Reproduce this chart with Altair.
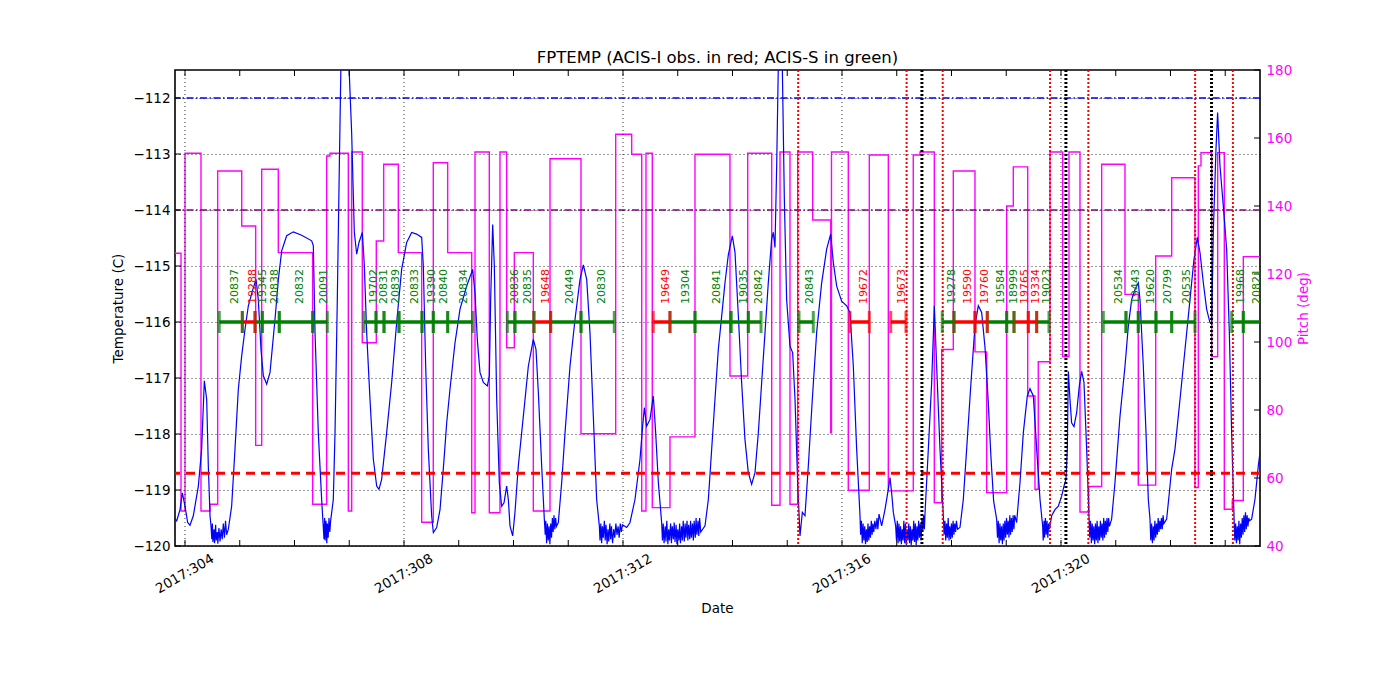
import altair as alt
import pandas as pd

# ---------------- data ----------------
x_tick_days = list(range(304, 324))
x_label_days = [304, 308, 312, 316, 320]
temp_ticks = [-120, -119, -118, -117, -116, -115, -114, -113, -112]
pitch_ticks = [40, 60, 80, 100, 120, 140, 160, 180]

limit_blue = -112.0
limit_purple = -114.0
limit_red = -118.7
obs_level = -116.0
obs_label_level = -115.68

obs_ids = ["20837", "19288", "19345", "20838", "20832", "20091", "19702", "20831",
           "20839", "20833", "19390", "20840", "20834", "20836", "20835", "19648",
           "20449", "20830", "19649", "19304", "20841", "19035", "20842", "20843",
           "19672", "19673", "19278", "19590", "19760", "19584", "18999", "19765",
           "19334", "19023", "20534", "19443", "19620", "20799", "20535", "19968",
           "20821"]
obs_instr = ["S", "I", "S", "S", "S", "S", "S", "S",
             "S", "S", "S", "S", "S", "S", "S", "I",
             "S", "S", "I", "S", "S", "S", "S", "S",
             "I", "I", "S", "I", "I", "S", "S", "I",
             "I", "S", "S", "S", "S", "S", "S", "S",
             "S"]
obs_start = [304.626, 305.047, 305.279, 305.412, 305.722, 306.332, 307.269, 307.489,
             307.635, 307.909, 308.329, 308.535, 308.798, 309.887, 310.027, 310.374,
             310.679, 311.233, 312.553, 312.858, 313.315, 313.973, 314.289, 315.215,
             316.146, 316.890, 317.832, 318.046, 318.429, 318.654, 319.008, 319.142,
             319.403, 319.556, 320.773, 321.187, 321.412, 321.735, 322.022, 323.118,
             323.330]
obs_end = [305.047, 305.279, 305.412, 305.722, 306.332, 306.599, 307.489, 307.635,
           307.909, 308.329, 308.535, 308.798, 309.255, 310.027, 310.374, 310.679,
           311.233, 311.841, 312.858, 313.315, 313.973, 314.289, 314.521, 315.476,
           316.499, 317.169, 318.046, 318.429, 318.654, 319.008, 319.142, 319.403,
           319.556, 319.781, 321.187, 321.412, 321.735, 322.022, 322.447, 323.330,
           323.690]

red_vlines = [315.20, 317.18, 317.84, 319.80, 320.50, 322.45, 323.14]
black_vlines = [317.46, 320.09, 322.75]

# pitch: (day at which the level starts, pitch level in deg)
pitch_steps = [
    (303.817, 126.1), (303.927, 50.3), (304.000, 155.5), (304.292, 50.3), (304.457, 52.3),
    (304.597, 150.3), (305.036, 134.1), (305.291, 69.6), (305.401, 150.8), (305.704, 126.3),
    (306.332, 52.3), (306.588, 154.7), (306.648, 155.5), (306.983, 50.3), (307.045, 155.9),
    (307.238, 99.8), (307.494, 129.7), (307.629, 152.3), (307.896, 126.3), (308.323, 47.0),
    (308.535, 152.7), (308.798, 126.3), (309.237, 49.8), (309.297, 155.9), (309.558, 49.8),
    (309.753, 155.9), (309.876, 98.3), (310.015, 126.3), (310.362, 50.3), (310.667, 153.9),
    (311.233, 73.0), (311.867, 161.1), (312.159, 155.2), (312.342, 50.3), (312.420, 155.5),
    (312.535, 51.3), (312.858, 72.1), (313.315, 155.2), (313.954, 90.0), (314.278, 155.5),
    (314.716, 52.0), (314.868, 155.9), (315.050, 52.3), (315.191, 155.9), (315.465, 135.9),
    (315.794, 73.3), (315.808, 155.9), (316.115, 56.4), (316.499, 155.0), (316.846, 56.2),
    (317.302, 155.0), (317.425, 155.9), (317.686, 52.7), (317.821, 97.8), (318.033, 150.3),
    (318.429, 97.1), (318.643, 55.7), (319.008, 140.0), (319.129, 151.5), (319.392, 84.1),
    (319.525, 56.7), (319.585, 94.2), (319.799, 155.9), (320.031, 95.7), (320.146, 155.9),
    (320.347, 50.0), (320.506, 57.5), (320.743, 152.3), (321.169, 114.0), (321.412, 57.9),
    (321.730, 125.3), (322.022, 148.3), (322.447, 57.2), (322.508, 151.8), (322.557, 155.7),
    (322.753, 95.7), (322.862, 155.7), (322.983, 50.8), (323.129, 53.4), (323.330, 125.1),
    (323.635, 125.1),
]

# FPTEMP: (day, temperature C)
temp_series = [
    (303.817, -119.52), (303.848, -119.55), (303.909, -119.35), (303.951, -119.05), (304.000, -119.29),
    (304.049, -119.58), (304.091, -119.63), (304.152, -119.46), (304.244, -118.93), (304.304, -118.27),
    (304.353, -117.05), (304.396, -117.38), (304.426, -118.57), (304.457, -119.46), (304.475, -119.64),
    (304.49, -119.88), (304.50, -119.60), (304.51, -119.93), (304.53, -119.70), (304.54, -119.95),
    (304.56, -119.62), (304.57, -119.90), (304.59, -119.75), (304.60, -119.96), (304.62, -119.68),
    (304.64, -119.92), (304.66, -119.70), (304.68, -119.88), (304.70, -119.60), (304.72, -119.85),
    (304.74, -119.55), (304.76, -119.80), (304.792, -119.70), (304.852, -119.29), (304.913, -118.27),
    (304.974, -117.20), (305.035, -116.61), (305.096, -116.13), (305.157, -115.71), (305.248, -115.39),
    (305.297, -115.24), (305.339, -115.60), (305.388, -116.49), (305.431, -116.96), (305.492, -117.11),
    (305.553, -116.90), (305.644, -115.95), (305.705, -115.24), (305.766, -114.73), (305.857, -114.46),
    (305.979, -114.39), (306.131, -114.45), (306.314, -114.55), (306.344, -114.64), (306.375, -116.19),
    (306.435, -117.98), (306.496, -119.17), (306.539, -119.88), (306.55, -119.50), (306.56, -119.90),
    (306.575, -119.55), (306.59, -119.95), (306.60, -119.60), (306.615, -119.85), (306.63, -119.50),
    (306.645, -119.75), (306.66, -119.55), (306.709, -119.17), (306.740, -117.98), (306.782, -115.60),
    (306.819, -113.21), (306.85, -111.3), (306.92, -110.6), (306.99, -111.3), (307.044, -112.62),
    (307.093, -114.40), (307.136, -114.79), (307.178, -114.58), (307.239, -114.40), (307.276, -115.00),
    (307.318, -116.19), (307.379, -117.38), (307.440, -118.45), (307.501, -118.93), (307.543, -118.99),
    (307.592, -118.81), (307.683, -117.98), (307.775, -117.08), (307.866, -116.01), (307.957, -115.06),
    (308.049, -114.58), (308.140, -114.40), (308.231, -114.43), (308.323, -114.49), (308.353, -115.00),
    (308.396, -116.79), (308.444, -118.27), (308.505, -119.46), (308.536, -119.76), (308.597, -119.67),
    (308.658, -119.35), (308.72, -118.60), (308.78, -117.80), (308.840, -117.20), (308.932, -116.37),
    (309.023, -115.77), (309.145, -115.36), (309.254, -115.06), (309.297, -115.48), (309.339, -116.31),
    (309.388, -116.90), (309.449, -117.08), (309.522, -117.14), (309.559, -116.96), (309.583, -115.60),
    (309.620, -114.26), (309.650, -115.00), (309.693, -117.38), (309.741, -118.87), (309.784, -119.29),
    (309.827, -119.23), (309.875, -118.93), (309.906, -119.17), (309.936, -119.64), (309.985, -119.82),
    (310.027, -119.40), (310.088, -118.57), (310.180, -117.68), (310.271, -116.79), (310.362, -116.31),
    (310.411, -116.49), (310.454, -117.26), (310.515, -118.57), (310.563, -119.52),
    (310.58, -119.80), (310.59, -119.55), (310.605, -119.95), (310.62, -119.60), (310.635, -119.90),
    (310.65, -119.65), (310.665, -119.97), (310.68, -119.60), (310.695, -119.85), (310.71, -119.50),
    (310.725, -119.75), (310.74, -119.45), (310.755, -119.70), (310.77, -119.50), (310.785, -119.65),
    (310.819, -119.58), (310.880, -118.87), (310.941, -117.98), (311.032, -116.79), (311.124, -115.95),
    (311.215, -115.24), (311.276, -114.98), (311.337, -115.24), (311.397, -116.19), (311.458, -117.68),
    (311.519, -119.17), (311.568, -119.64),
    (311.58, -119.90), (311.595, -119.60), (311.61, -119.95), (311.625, -119.65), (311.64, -119.85),
    (311.66, -119.55), (311.675, -119.90), (311.69, -119.62), (311.71, -119.97), (311.725, -119.70),
    (311.74, -119.92), (311.76, -119.60), (311.775, -119.88), (311.79, -119.65), (311.81, -119.95),
    (311.83, -119.70), (311.85, -119.85), (311.87, -119.60), (311.89, -119.80), (311.91, -119.65),
    (311.93, -119.85), (311.95, -119.60), (311.97, -119.75), (311.99, -119.62),
    (312.067, -119.67), (312.128, -119.58), (312.219, -119.17), (312.311, -118.45), (312.359, -117.86),
    (312.390, -117.53), (312.432, -117.86), (312.493, -117.74), (312.554, -117.32), (312.597, -117.98),
    (312.646, -118.87), (312.706, -119.58),
    (312.72, -119.90), (312.735, -119.60), (312.75, -119.95), (312.77, -119.65), (312.785, -119.92),
    (312.80, -119.55), (312.82, -119.97), (312.835, -119.70), (312.85, -119.90), (312.87, -119.60),
    (312.885, -119.95), (312.90, -119.65), (312.92, -119.88), (312.935, -119.58), (312.95, -119.93),
    (312.97, -119.62), (312.985, -119.97), (313.00, -119.70), (313.02, -119.90), (313.035, -119.60),
    (313.05, -119.95), (313.07, -119.65), (313.085, -119.90), (313.10, -119.55), (313.12, -119.92),
    (313.135, -119.60), (313.15, -119.85), (313.17, -119.55), (313.185, -119.90), (313.20, -119.62),
    (313.22, -119.88), (313.235, -119.55), (313.25, -119.85), (313.27, -119.60), (313.285, -119.90),
    (313.30, -119.55), (313.32, -119.85), (313.335, -119.50), (313.35, -119.80), (313.37, -119.55),
    (313.385, -119.82), (313.40, -119.50), (313.42, -119.75),
    (313.498, -119.64), (313.559, -119.17), (313.620, -118.27), (313.680, -117.38), (313.741, -116.49),
    (313.802, -115.90), (313.863, -115.30), (313.924, -114.80), (313.997, -114.46), (314.046, -114.76),
    (314.107, -115.89), (314.167, -117.08), (314.228, -118.10), (314.289, -118.69), (314.350, -118.90),
    (314.411, -118.69), (314.472, -117.98), (314.533, -117.08), (314.594, -116.19), (314.654, -115.30),
    (314.715, -114.52), (314.746, -114.40), (314.776, -114.67), (314.807, -113.21), (314.837, -111.43),
    (314.87, -110.6), (314.910, -111.43), (314.947, -113.81), (314.989, -115.60), (315.050, -116.43),
    (315.099, -116.55), (315.142, -117.38), (315.190, -118.87), (315.233, -119.82), (315.276, -119.40),
    (315.324, -119.46), (315.385, -118.57), (315.458, -117.38), (315.537, -116.19), (315.629, -115.30),
    (315.720, -114.70), (315.793, -114.43), (315.842, -114.94), (315.903, -115.36), (315.994, -115.63),
    (316.085, -115.71), (316.146, -115.83), (316.207, -116.79), (316.268, -118.27), (316.329, -119.46),
    (316.34, -119.80), (316.355, -119.55), (316.37, -119.95), (316.385, -119.60), (316.40, -119.90),
    (316.415, -119.65), (316.43, -119.97), (316.445, -119.70), (316.46, -119.93), (316.475, -119.60),
    (316.49, -119.90), (316.505, -119.65), (316.52, -119.85), (316.535, -119.55), (316.55, -119.80),
    (316.565, -119.60), (316.58, -119.75), (316.60, -119.55), (316.62, -119.70), (316.64, -119.50),
    (316.655, -119.70),
    (316.676, -119.43), (316.725, -119.64), (316.785, -119.35), (316.846, -118.99), (316.877, -118.78),
    (316.907, -119.05), (316.938, -119.40), (316.980, -119.64),
    (316.995, -119.90), (317.01, -119.55), (317.025, -119.95), (317.04, -119.60), (317.055, -119.92),
    (317.07, -119.65), (317.085, -119.97), (317.10, -119.70), (317.115, -119.90), (317.13, -119.55),
    (317.145, -119.95), (317.16, -119.60), (317.175, -119.98), (317.19, -119.70), (317.205, -119.90),
    (317.22, -119.60), (317.235, -119.95), (317.25, -119.65), (317.265, -119.98), (317.28, -119.70),
    (317.295, -119.90), (317.31, -119.55), (317.325, -119.93), (317.34, -119.60), (317.355, -119.98),
    (317.37, -119.65), (317.385, -119.90), (317.40, -119.55), (317.415, -119.85), (317.43, -119.60),
    (317.445, -119.90), (317.46, -119.50), (317.475, -119.75), (317.49, -119.45), (317.505, -119.70),
    (317.516, -119.43), (317.577, -118.27), (317.638, -117.08), (317.687, -115.71), (317.729, -116.79),
    (317.790, -118.27), (317.851, -119.46),
    (317.865, -119.80), (317.88, -119.55), (317.895, -119.90), (317.91, -119.60), (317.925, -119.85),
    (317.94, -119.50), (317.955, -119.90), (317.97, -119.65), (317.985, -119.88), (318.00, -119.60),
    (318.015, -119.85), (318.03, -119.55), (318.045, -119.80), (318.06, -119.60), (318.075, -119.75),
    (318.09, -119.55), (318.11, -119.70),
    (318.155, -119.67), (318.216, -119.17), (318.277, -118.27), (318.356, -117.08), (318.429, -116.07),
    (318.490, -115.71), (318.551, -115.83), (318.612, -116.45), (318.67, -117.40), (318.72, -118.40),
    (318.77, -119.20), (318.825, -119.52),
    (318.84, -119.85), (318.855, -119.55), (318.87, -119.95), (318.885, -119.60), (318.90, -119.90),
    (318.915, -119.65), (318.93, -119.97), (318.945, -119.60), (318.96, -119.90), (318.975, -119.55),
    (318.99, -119.85), (319.005, -119.50), (319.02, -119.80), (319.035, -119.55), (319.05, -119.85),
    (319.065, -119.45), (319.08, -119.80), (319.095, -119.50), (319.11, -119.75), (319.125, -119.45),
    (319.14, -119.70), (319.155, -119.45),
    (319.190, -119.58), (319.251, -118.87), (319.312, -117.98), (319.385, -117.32), (319.434, -117.19),
    (319.495, -117.32), (319.556, -118.27), (319.617, -119.17), (319.665, -119.64),
    (319.675, -119.90), (319.69, -119.55), (319.70, -119.85), (319.715, -119.50), (319.73, -119.80),
    (319.745, -119.55), (319.76, -119.85), (319.775, -119.60), (319.79, -119.70),
    (319.830, -119.46), (319.890, -119.35), (319.951, -119.29), (320.012, -119.11), (320.055, -118.93),
    (320.091, -118.81), (320.116, -118.27), (320.134, -116.88), (320.164, -117.38), (320.194, -117.80),
    (320.237, -117.87), (320.286, -117.62), (320.335, -117.14), (320.378, -116.88), (320.420, -117.08),
    (320.469, -118.27), (320.511, -119.46),
    (320.525, -119.85), (320.54, -119.55), (320.555, -119.95), (320.57, -119.60), (320.585, -119.90),
    (320.60, -119.65), (320.615, -119.97), (320.63, -119.60), (320.645, -119.90), (320.66, -119.55),
    (320.675, -119.95), (320.69, -119.65), (320.705, -119.90), (320.72, -119.55), (320.735, -119.85),
    (320.75, -119.60), (320.765, -119.90), (320.78, -119.50), (320.795, -119.85), (320.81, -119.55),
    (320.825, -119.80), (320.84, -119.50), (320.855, -119.75), (320.87, -119.50), (320.885, -119.65),
    (320.925, -119.52), (320.986, -118.87), (321.078, -117.68), (321.169, -116.79), (321.230, -116.07),
    (321.291, -115.60), (321.352, -115.42), (321.412, -115.30), (321.443, -115.60), (321.504, -116.79),
    (321.553, -117.98), (321.595, -119.17), (321.626, -119.52),
    (321.64, -119.90), (321.655, -119.60), (321.67, -119.95), (321.685, -119.65), (321.70, -119.90),
    (321.715, -119.55), (321.73, -119.85), (321.745, -119.60), (321.76, -119.80), (321.775, -119.50),
    (321.79, -119.75), (321.805, -119.55), (321.82, -119.70), (321.835, -119.50), (321.85, -119.70),
    (321.865, -119.45), (321.88, -119.60),
    (321.930, -119.52), (321.979, -119.05), (322.021, -118.63), (322.082, -118.27), (322.174, -117.38),
    (322.265, -116.49), (322.356, -115.60), (322.429, -114.88), (322.490, -114.49), (322.539, -114.76),
    (322.600, -115.30), (322.660, -115.77), (322.721, -116.01), (322.752, -116.04), (322.782, -114.40),
    (322.831, -112.92), (322.861, -112.26), (322.904, -113.21), (322.965, -113.93), (323.026, -114.70),
    (323.075, -116.19), (323.117, -117.98), (323.160, -119.46),
    (323.175, -119.90), (323.19, -119.60), (323.205, -119.95), (323.22, -119.65), (323.235, -119.90),
    (323.25, -119.55), (323.265, -119.97), (323.28, -119.60), (323.295, -119.85), (323.31, -119.50),
    (323.325, -119.80), (323.34, -119.45), (323.355, -119.75), (323.37, -119.40), (323.385, -119.70),
    (323.40, -119.45), (323.415, -119.65), (323.43, -119.50), (323.445, -119.55),
    (323.482, -119.52), (323.543, -119.17), (323.604, -118.57), (323.635, -118.33),
]

# ---------------- layout / scales ----------------
W, H = 1085, 476
FONT = "DejaVu Sans"
GREEN, RED, MAGENTA = "#008000", "#FF0000", "#FF00FF"

xs = alt.Scale(domain=[303.8174, 323.635], nice=False, zero=False)
ts = alt.Scale(domain=[-120, -111.5], nice=False, zero=False)
ps = alt.Scale(domain=[40, 180], nice=False, zero=False)

temp_df = pd.DataFrame(temp_series, columns=["day", "temp"])
temp_df["i"] = range(len(temp_df))
pitch_df = pd.DataFrame(pitch_steps, columns=["day", "pitch"])

obs_df = pd.DataFrame({"id": obs_ids, "start": obs_start, "end": obs_end, "instr": obs_instr})
obs_df["col"] = obs_df["instr"].map({"I": RED, "S": GREEN})
obs_df["mid"] = (obs_df["start"] + obs_df["end"]) / 2
obs_df["lev"] = obs_level
obs_df["labely"] = obs_label_level

bounds_df = pd.concat([
    pd.DataFrame({"b": obs_df["start"], "col": obs_df["col"], "lev": obs_level}),
    pd.DataFrame({"b": obs_df["end"], "col": obs_df["col"], "lev": obs_level}),
])

xlab_df = pd.DataFrame({"day": x_label_days, "lab": [f"2017:{d}" for d in x_label_days]})

t_axis = alt.Axis(orient="left", values=temp_ticks, grid=True, gridColor="black",
                  gridDash=[1, 3], gridWidth=0.8, gridOpacity=1, ticks=False, domain=False,
                  labelPadding=5, labelColor="black", title="Temperature (C)",
                  titlePadding=7, titleColor="black")
p_axis = alt.Axis(orient="right", values=pitch_ticks, grid=False, ticks=False,
                  domain=False, labelPadding=6, labelColor=MAGENTA, title="Pitch (deg)",
                  titleColor=MAGENTA, titleAngle=270, titleBaseline="top", titlePadding=5)

XN = lambda f: alt.X(f, type="quantitative", scale=xs, axis=None)

# ---------------- pitch (right axis) ----------------
pitch_line = alt.Chart(pitch_df).mark_line(
    color=MAGENTA, strokeWidth=1.4, interpolate="step-after", clip=True
).encode(x=XN("day"), y=alt.Y("pitch:Q", scale=ps, axis=p_axis))

pitch_tick_marks = alt.Chart(pd.DataFrame({"p": pitch_ticks})).mark_rule(
    color="black", strokeWidth=1
).encode(y=alt.Y("p:Q", scale=ps, axis=None), x=alt.value(W), x2=alt.value(W - 6))

# ---------------- temperature (left axis) ----------------
temp_line = alt.Chart(temp_df).mark_line(color="#0000FF", strokeWidth=1.2, clip=True).encode(
    x=XN("day"),
    y=alt.Y("temp:Q", scale=ts, axis=t_axis),
    order="i:Q",
)


def hline(val, color, dash, width):
    return alt.Chart(pd.DataFrame({"v": [val]})).mark_rule(
        color=color, strokeDash=dash, strokeWidth=width
    ).encode(y=alt.Y("v:Q", scale=ts, axis=None))


def vlines(days, color, width, dash):
    return alt.Chart(pd.DataFrame({"day": days})).mark_rule(
        color=color, strokeDash=dash, strokeWidth=width
    ).encode(x=XN("day"))


h_blue = hline(limit_blue, "#0000FF", [7, 2.5, 1.5, 2.5], 1.4)
h_purple = hline(limit_purple, "#800080", [7, 2.5, 1.5, 2.5], 1.4)
h_red = hline(limit_red, RED, [9, 6], 3)
v_red = vlines(red_vlines, RED, 2, [2, 2])
v_black = vlines(black_vlines, "black", 3, [2, 2])
x_grid = vlines(x_label_days, "black", 0.8, [1, 3])

segs = alt.Chart(obs_df).mark_rule(strokeWidth=3.5, clip=True).encode(
    x=XN("start"), x2="end:Q",
    y=alt.Y("lev:Q", scale=ts, axis=None),
    color=alt.Color("col:N", scale=None),
)
seg_ticks = alt.Chart(bounds_df).mark_tick(orient="vertical", size=22, thickness=3, clip=True).encode(
    x=XN("b"),
    y=alt.Y("lev:Q", scale=ts, axis=None),
    color=alt.Color("col:N", scale=None),
)
seg_labels = alt.Chart(obs_df).mark_text(
    angle=270, align="left", baseline="middle", dy=4, fontSize=11, font=FONT
).encode(
    x=XN("mid"),
    y=alt.Y("labely:Q", scale=ts, axis=None),
    text="id:N",
    color=alt.Color("col:N", scale=None),
)

xt_df = pd.DataFrame({"day": x_tick_days})
x_ticks_bottom = alt.Chart(xt_df).mark_rule(color="black", strokeWidth=1).encode(
    x=XN("day"), y=alt.value(H), y2=alt.value(H - 6))
x_ticks_top = alt.Chart(xt_df).mark_rule(color="black", strokeWidth=1).encode(
    x=XN("day"), y=alt.value(0), y2=alt.value(6))
t_tick_marks = alt.Chart(pd.DataFrame({"t": temp_ticks})).mark_rule(color="black", strokeWidth=1).encode(
    y=alt.Y("t:Q", scale=ts, axis=None), x=alt.value(0), x2=alt.value(6))

# x axis tick labels and title drawn as text
x_labels = alt.Chart(xlab_df).mark_text(
    angle=330, align="center", baseline="middle", fontSize=13.5, font=FONT, color="black"
).encode(x=XN("day"), y=alt.value(H + 28), text="lab:N")
x_title = alt.Chart(pd.DataFrame({"t": ["Date"]})).mark_text(
    align="center", baseline="middle", fontSize=13.5, font=FONT, color="black"
).encode(x=alt.value(W / 2), y=alt.value(H + 63), text="t:N")

chart = alt.layer(
    pitch_line, pitch_tick_marks,
    temp_line, h_blue, h_purple, h_red, v_red, v_black, x_grid,
    segs, seg_ticks, seg_labels, x_ticks_bottom, x_ticks_top, t_tick_marks,
    x_labels, x_title,
).resolve_scale(y="independent").properties(
    width=W, height=H,
    title=alt.TitleParams("FPTEMP (ACIS-I obs. in red; ACIS-S in green)", fontSize=16.5,
                          fontWeight="normal", font=FONT, color="black", offset=-3),
    autosize=alt.AutoSizeParams(type="none"),
    padding={"left": 167, "top": 62, "right": 132, "bottom": 146},
).configure(font=FONT, background="white").configure_view(
    stroke="black", strokeWidth=1.6
).configure_axis(
    labelFont=FONT, titleFont=FONT, labelFontSize=13.5, titleFontSize=13.5,
    titleFontWeight="normal",
)

chart.save("out.html", embed_options={"renderer": "svg", "actions": False})
